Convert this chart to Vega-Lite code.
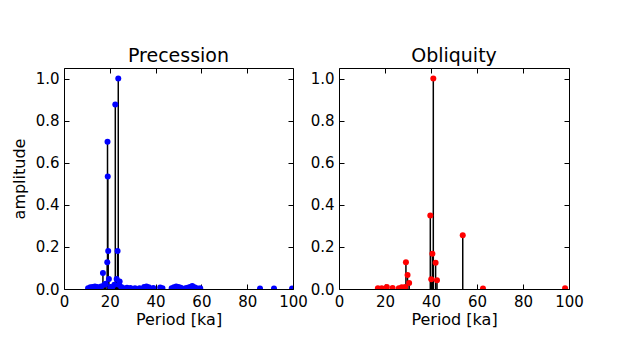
{
  "$schema": "https://vega.github.io/schema/vega-lite/v6.json",
  "padding": {"left": 10, "top": 46, "right": 5, "bottom": 5},
  "background": "#ffffff",
  "config": {
    "font": "DejaVu Sans",
    "view": {"stroke": "#000000", "strokeWidth": 1},
    "axis": {
      "domain": false, "grid": false,
      "tickColor": "#000000", "tickSize": -5, "tickWidth": 1,
      "labelFontSize": 15, "labelColor": "#000000", "labelPadding": 10, "labelFlush": false,
      "titleFontSize": 16, "titleFontWeight": "normal", "titleColor": "#000000"
    },
    "axisX": {"titlePadding": 2},
    "title": {"fontSize": 19, "fontWeight": "normal", "color": "#000000", "offset": 2, "anchor": "middle", "frame": "group"}
  },
  "datasets": {
    "prec": [
      {"period": 10.5, "amp": 0.003}, {"period": 11.5, "amp": 0.008}, {"period": 12.5, "amp": 0.01},
      {"period": 13.5, "amp": 0.012}, {"period": 14.5, "amp": 0.01}, {"period": 15.5, "amp": 0.006},
      {"period": 16.2, "amp": 0.012}, {"period": 17.0, "amp": 0.076}, {"period": 17.6, "amp": 0.02},
      {"period": 18.2, "amp": 0.025}, {"period": 18.9, "amp": 0.127}, {"period": 19.0, "amp": 0.70},
      {"period": 19.1, "amp": 0.535}, {"period": 19.3, "amp": 0.181}, {"period": 19.6, "amp": 0.048},
      {"period": 20.2, "amp": 0.01}, {"period": 21.0, "amp": 0.008}, {"period": 22.0, "amp": 0.02},
      {"period": 22.4, "amp": 0.876}, {"period": 23.0, "amp": 0.048}, {"period": 23.4, "amp": 0.181},
      {"period": 23.7, "amp": 1.0}, {"period": 24.0, "amp": 0.02}, {"period": 24.3, "amp": 0.036},
      {"period": 25.0, "amp": 0.01}, {"period": 26.0, "amp": 0.004}, {"period": 27.5, "amp": 0.006},
      {"period": 29.0, "amp": 0.005}, {"period": 31.0, "amp": 0.004}, {"period": 33.0, "amp": 0.003},
      {"period": 35.0, "amp": 0.01}, {"period": 36.0, "amp": 0.012}, {"period": 37.0, "amp": 0.008},
      {"period": 39.0, "amp": 0.005}, {"period": 42.0, "amp": 0.007}, {"period": 43.0, "amp": 0.004},
      {"period": 47.0, "amp": 0.003}, {"period": 48.0, "amp": 0.008}, {"period": 49.0, "amp": 0.012},
      {"period": 50.0, "amp": 0.01}, {"period": 51.0, "amp": 0.006}, {"period": 53.0, "amp": 0.004},
      {"period": 54.0, "amp": 0.006}, {"period": 55.0, "amp": 0.01}, {"period": 56.0, "amp": 0.014},
      {"period": 57.0, "amp": 0.008}, {"period": 58.0, "amp": 0.004}, {"period": 59.5, "amp": 0.003},
      {"period": 85.6, "amp": 0.002}, {"period": 91.7, "amp": 0.002}, {"period": 99.6, "amp": 0.002}
    ],
    "obl": [
      {"period": 16.9, "amp": 0.003}, {"period": 18.6, "amp": 0.003}, {"period": 20.8, "amp": 0.01},
      {"period": 23.3, "amp": 0.005}, {"period": 26.0, "amp": 0.003}, {"period": 27.3, "amp": 0.008},
      {"period": 28.8, "amp": 0.01}, {"period": 29.1, "amp": 0.127}, {"period": 29.8, "amp": 0.066},
      {"period": 30.5, "amp": 0.028}, {"period": 39.7, "amp": 0.349}, {"period": 40.1, "amp": 0.046},
      {"period": 40.6, "amp": 0.168}, {"period": 41.0, "amp": 1.0}, {"period": 42.0, "amp": 0.125},
      {"period": 42.6, "amp": 0.042}, {"period": 53.8, "amp": 0.255}, {"period": 62.6, "amp": 0.002},
      {"period": 98.3, "amp": 0.003}
    ]
  },
  "spacing": 1,
  "hconcat": [
    {
      "title": "Precession",
      "width": 229, "height": 221,
      "data": {"name": "prec"},
      "layer": [
        {
          "mark": {"type": "rule", "color": "#000000", "strokeWidth": 1.5},
          "encoding": {
            "x": {"field": "period", "type": "quantitative", "scale": {"domain": [0, 100], "nice": false}, "axis": {"values": [0, 20, 40, 60, 80, 100], "title": "Period [ka]"}},
            "y": {"field": "amp", "type": "quantitative", "scale": {"domain": [0, 1.05], "nice": false}, "axis": {"values": [0, 0.2, 0.4, 0.6, 0.8, 1.0], "format": ".1f", "title": "amplitude", "titlePadding": 8}},
            "y2": {"datum": 0}
          }
        },
        {
          "mark": {"type": "point", "filled": true, "color": "#0000ff", "size": 36, "opacity": 1, "clip": true},
          "encoding": {
            "x": {"field": "period", "type": "quantitative", "scale": {"domain": [0, 100], "nice": false}, "axis": {"orient": "top", "values": [0, 20, 40, 60, 80, 100], "labels": false, "title": null}},
            "y": {"field": "amp", "type": "quantitative", "scale": {"domain": [0, 1.05], "nice": false}, "axis": {"orient": "right", "values": [0, 0.2, 0.4, 0.6, 0.8, 1.0], "labels": false, "title": null}}
          }
        }
      ],
      "resolve": {"axis": {"x": "independent", "y": "independent"}}
    },
    {
      "title": "Obliquity",
      "width": 230, "height": 221,
      "data": {"name": "obl"},
      "layer": [
        {
          "mark": {"type": "rule", "color": "#000000", "strokeWidth": 1.5},
          "encoding": {
            "x": {"field": "period", "type": "quantitative", "scale": {"domain": [0, 100], "nice": false}, "axis": {"values": [0, 20, 40, 60, 80, 100], "title": "Period [ka]"}},
            "y": {"field": "amp", "type": "quantitative", "scale": {"domain": [0, 1.05], "nice": false}, "axis": {"values": [0, 0.2, 0.4, 0.6, 0.8, 1.0], "format": ".1f", "title": null}},
            "y2": {"datum": 0}
          }
        },
        {
          "mark": {"type": "point", "filled": true, "color": "#ff0000", "size": 36, "opacity": 1, "clip": true},
          "encoding": {
            "x": {"field": "period", "type": "quantitative", "scale": {"domain": [0, 100], "nice": false}, "axis": {"orient": "top", "values": [0, 20, 40, 60, 80, 100], "labels": false, "title": null}},
            "y": {"field": "amp", "type": "quantitative", "scale": {"domain": [0, 1.05], "nice": false}, "axis": {"orient": "right", "values": [0, 0.2, 0.4, 0.6, 0.8, 1.0], "labels": false, "title": null}}
          }
        }
      ],
      "resolve": {"axis": {"x": "independent", "y": "independent"}}
    }
  ]
}
